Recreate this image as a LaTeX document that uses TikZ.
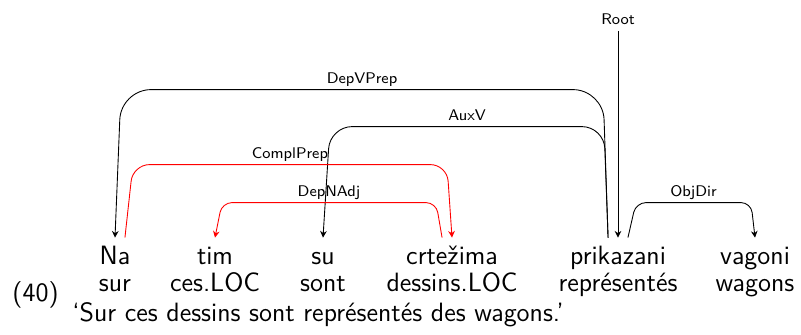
\documentclass[tikz,border=0pt]{standalone}
\usepackage{fontspec}
\usepackage{tikz}
\usetikzlibrary{arrows.meta,positioning,calc}

\begin{document}
\begin{tikzpicture}[
  x=0.4528pt, y=0.4528pt,
  font=\sffamily,
  word/.style={anchor=base,inner sep=0pt,text height=12.2pt,text depth=3pt,font=\sffamily\fontsize{12}{14}\selectfont},
  gloss/.style={anchor=base,inner sep=0pt,font=\sffamily\fontsize{12}{14}\selectfont},
  lab/.style={anchor=base,inner sep=0pt,yshift=2.7pt,font=\sffamily\fontsize{7}{8}\selectfont},
  dep/.style={-{Stealth[length=3pt,width=3pt]},black},
  rdep/.style={dep,red}
]
\useasboundingbox (0,0) rectangle (801,335);
% words and glosses
\node[word] (na) at (115,70) {Na};
\node[word] (tim) at (215,70) {tim};
\node[word] (su) at (323,70) {su};
\node[word] (crt) at (452,70) {crtežima};
\node[word] (prik) at (618,70) {prikazani};
\node[word] (vag) at (755,70) {vagoni};
\node[gloss] (naG) at (115,43) {sur};
\node[gloss] (timG) at (215,43) {ces.LOC};
\node[gloss] (suG) at (323,43) {sont};
\node[gloss] (crtG) at (452,43) {dessins.LOC};
\node[gloss] (prikG) at (618,43) {représentés};
\node[gloss] (vagG) at (755,43) {wagons};
\node[gloss,anchor=base west] (exnum) at (12,33) {(40)};
\node[gloss,anchor=base west] (trans) at (72,13) {‘Sur ces dessins sont représentés des wagons.’};
% arcs
\draw[dep,rounded corners=13.6pt] ([xshift=-4.5pt]prik.north) -- ++(-5,148)
  -- node[lab] {DepVPrep} ($(na.north)+(6,148)$) -- (na.north);
\draw[dep,rounded corners=10pt] ([xshift=-4.5pt]prik.north) -- ++(-4,111)
  -- node[lab] {AuxV} ($(su.north)+(7,111)$) -- (su.north);
\draw[rdep,rounded corners=7.5pt] ([xshift=4.5pt]na.north) -- ++(8,73)
  -- node[lab,text=black] {ComplPrep} ($(crt.north)+(-5,73)$) -- (crt.north);
\draw[rdep,rounded corners=4.5pt] ([xshift=-4.5pt]crt.north) -- ++(-6,35)
  -- node[lab,text=black] {DepNAdj} ($(tim.north)+(7,35)$) -- (tim.north);
\draw[dep,rounded corners=4.5pt] ([xshift=4.5pt]prik.north) -- ++(8,35)
  -- node[lab] {ObjDir} ($(vag.north)+(-4,35)$) -- (vag.north);
\node[lab,yshift=-2.7pt] (root) at (618,310) {Root};
\draw[dep] ([yshift=-2.7pt]root.base) -- (prik.north);
\end{tikzpicture}
\end{document}
